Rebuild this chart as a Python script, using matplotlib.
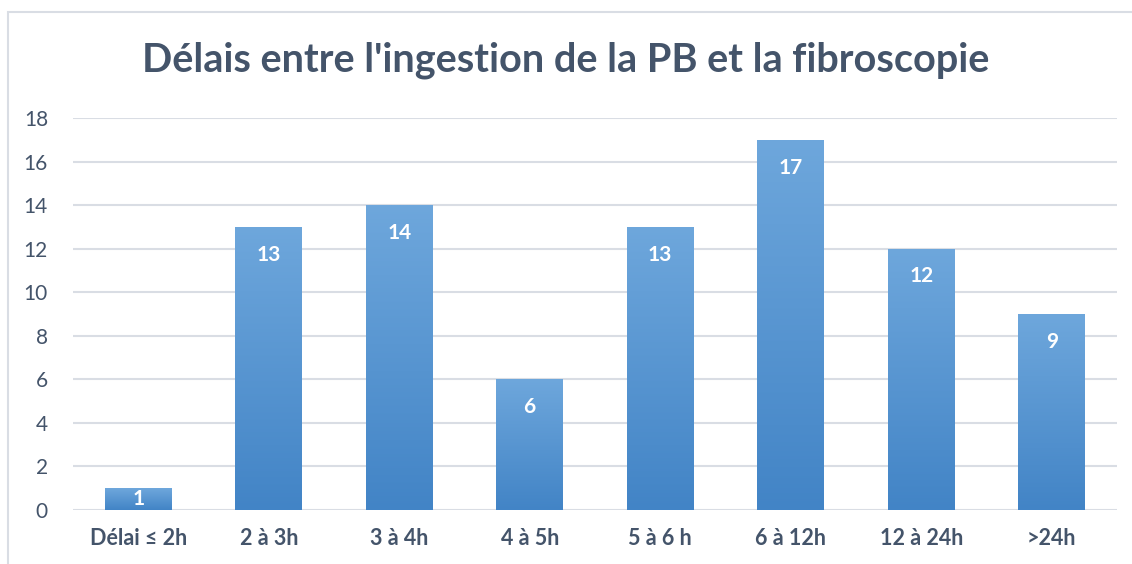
import numpy as np
import matplotlib.pyplot as plt
from matplotlib.patches import Rectangle
from matplotlib.colors import LinearSegmentedColormap

categories = ["Délai ≤ 2h", "2 à 3h", "3 à 4h", "4 à 5h", "5 à 6 h", "6 à 12h", "12 à 24h", ">24h"]
values = [1, 13, 14, 6, 13, 17, 12, 9]
yticks = [0, 2, 4, 6, 8, 10, 12, 14, 16, 18]

text_col = "#44546a"
grid_col = "#d9dde4"
plt.rcParams['font.family'] = ['Lato', 'DejaVu Sans']

fig = plt.figure(figsize=(11.32, 5.64), dpi=100)
W, H = 1132, 564
# outer chart frame
fig.patches.append(Rectangle((8 / W, -0.05), 1.2, 1 - 12 / H + 0.05, transform=fig.transFigure,
                             fill=False, edgecolor="#d9dde4", linewidth=1.5))
ax = fig.add_axes([73 / W, 1 - 510 / H, (1117 - 73) / W, (510 - 118) / H])

x = np.arange(len(categories))
bars = ax.bar(x, values, width=0.51, color="none", zorder=3)
cmap = LinearSegmentedColormap.from_list("g", ["#4284c6", "#6ea7dc"])
grad = np.linspace(0, 1, 256).reshape(-1, 1)
for b in bars:
    x0, w, h = b.get_x(), b.get_width(), b.get_height()
    im = ax.imshow(grad, cmap=cmap, origin="lower", aspect="auto",
                   extent=[x0, x0 + w, 0, h], zorder=3)
    im.set_clip_path(b)
    b.set_facecolor("none")

for xi, v in zip(x, values):
    if v < 2:
        ax.text(xi, v / 2, str(v), ha="center", va="center", color="white",
                fontsize=15, fontweight="bold", zorder=4)
    else:
        ax.annotate(str(v), (xi, v), xytext=(0, -20), textcoords="offset points",
                    ha="center", va="center", color="white", fontsize=15,
                    fontweight="bold", zorder=4)

ax.set_xlim(-0.5, len(categories) - 0.5)
ax.set_ylim(0, 18)
ax.set_yticks(yticks)
ax.set_xticks(x)
ax.set_xticklabels(categories, fontweight="bold")
ax.tick_params(axis="x", length=0, pad=13, labelsize=15.5, labelcolor=text_col)
ax.tick_params(axis="y", length=0, pad=18, labelsize=15, labelcolor=text_col)
ax.grid(axis="y", color=grid_col, linewidth=1.5, zorder=0)
for s in ax.spines.values():
    s.set_visible(False)

fig.text(0.5, 1 - 60 / H, "Délais entre l'ingestion de la PB et la fibroscopie",
         ha="center", va="center", fontsize=28.5, fontweight="bold", color=text_col)

fig.savefig("out.png", dpi=100)
